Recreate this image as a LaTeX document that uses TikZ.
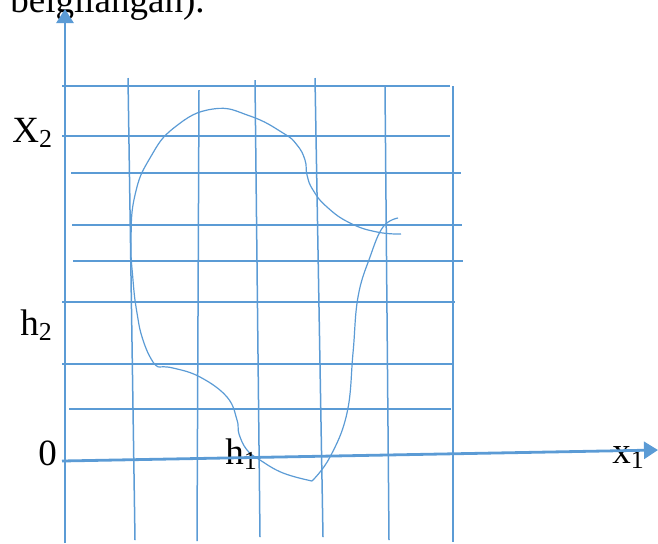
\documentclass[tikz,border=0pt]{standalone}
\usepackage{fontspec}
\setmainfont{Liberation Serif}
\usetikzlibrary{arrows.meta}

\definecolor{gridblue}{RGB}{91,155,213}
\tikzset{
	gridline/.style={draw=gridblue, line width=0.75pt},
	axisline/.style={draw=gridblue, line width=1.4pt, -{Triangle[length=7pt,width=8.5pt]}},
	regionline/.style={draw=gridblue, line width=0.6pt},
	lbl/.style={inner sep=0pt, anchor=base west, font=\fontsize{18.5}{20}\selectfont}
}

\begin{document}
\begin{tikzpicture}[x=0.5pt, y=-0.5pt]
		\clip (0,0) rectangle (658,543);
		\useasboundingbox (0,0) rectangle (658,543);
		% grid
		\foreach \xa/\y/\xb in {62/86/450, 62/136/450, 71/173/461, 72/225/462, 73/261/463, 62/302/455, 62/364/453, 69/409/451}
			\draw[gridline] (\xa,\y) -- (\xb,\y);
		\foreach \xa/\ya/\xb/\yb in {128/78/135/540, 199/90/197/541, 255/80/260/537, 315/78/323/537, 385/87/389/540, 453/86/453/542}
			\draw[gridline] (\xa,\ya) -- (\xb,\yb);
		% region boundary
		\draw[regionline] plot[smooth, tension=0.7] coordinates {(398,218) (383,227) (370,257) (358,297) (353,353) (347,413) (330,457) (312,481)};
		\draw[regionline] plot[smooth, tension=0.7] coordinates {(312,481) (283,473) (260,460) (247,450) (239,434) (237,420) (227,397) (200,377) (173,368) (160,367)};
		\draw[regionline] plot[smooth, tension=0.8] coordinates {(160,367) (153,362) (143,340) (137,313) (133,280) (131,240) (135,195) (150,158) (175,127) (213,109) (250,116) (283,133) (297,145) (305,160) (307,175) (313,190) (327,207) (350,223) (377,232) (401,234)};
		% labels
		\node[lbl] (caption) at (10,12.5) {belgilangan).};
		\node[lbl] (ylab) at (12,142) {X\textsubscript{2}};
		\node[lbl] (htwo) at (20,335) {h\textsubscript{2}};
		\node[lbl] (zero) at (38,465) {0};
		\node[lbl] (hone) at (225,464) {h\textsubscript{1}};
		\node[lbl] (xlab) at (612,463) {x\textsubscript{1}};
		% axes
		\coordinate (orig) at (62,461);
		\coordinate (xend) at (658,450);
		\coordinate (ybot) at (65,543);
		\coordinate (yend) at (65,9);
		\draw[axisline] (orig) -- (xend);
		\draw[axisline] (ybot) -- (yend);
	\end{tikzpicture}
\end{document}
